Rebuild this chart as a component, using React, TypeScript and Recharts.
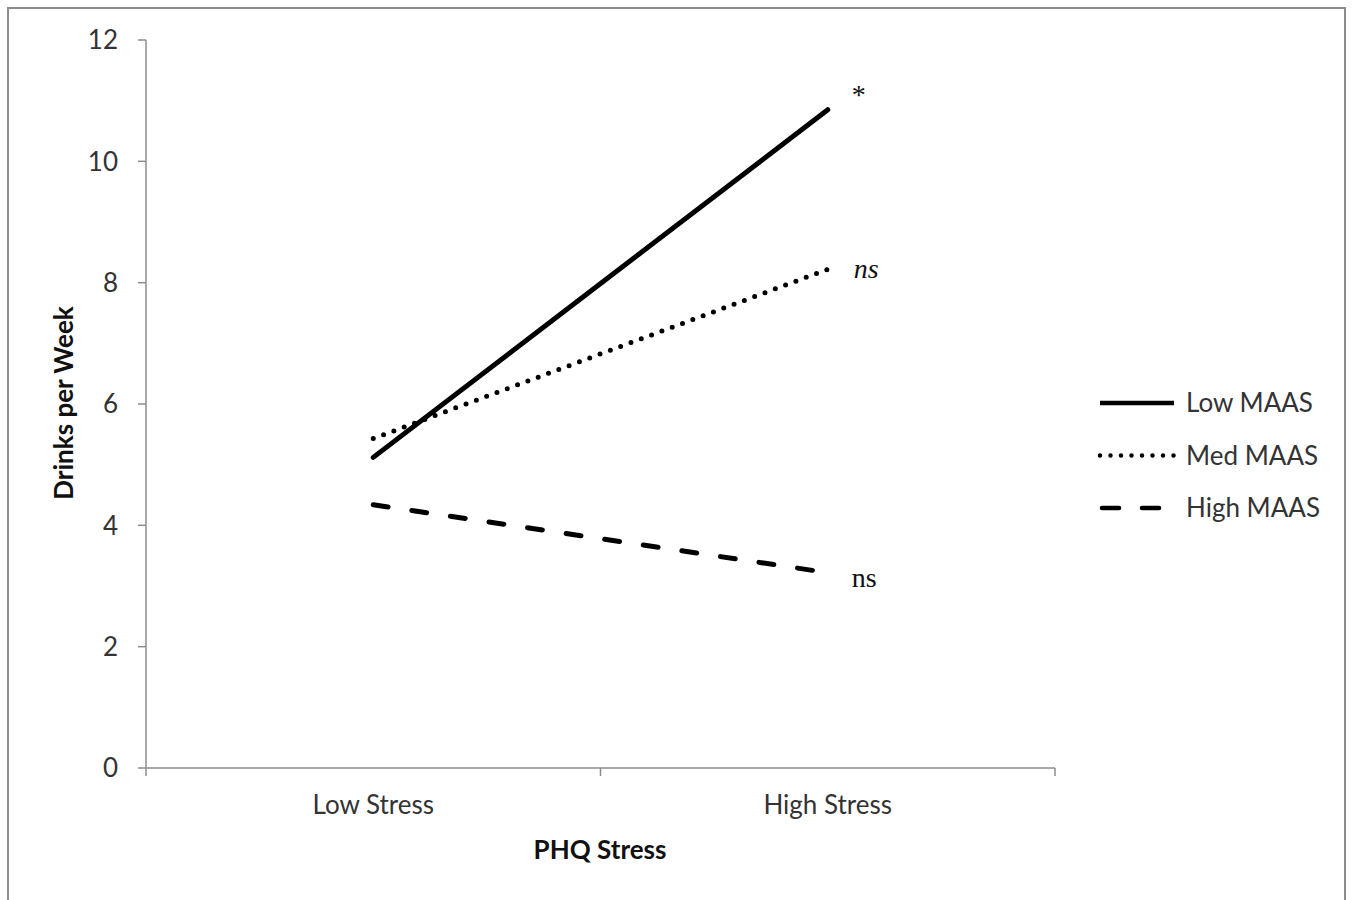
import { Label, Legend, Line, LineChart, XAxis, YAxis } from "recharts";

const INK = "#000000";
const AXIS = "#8c8c8c";
const TEXT = "#333333";
const SANS = "Lato, 'Open Sans', sans-serif";
const SERIF = "'Liberation Serif', 'DejaVu Serif', serif";

const categories = ["Low Stress", "High Stress"];
const lowMaas = [5.12, 10.85];
const medMaas = [5.43, 8.22];
const highMaas = [4.34, 3.22];
const yTicks = [0, 2, 4, 6, 8, 10, 12];

const data = categories.map((stress, i) => ({
  stress,
  low: lowMaas[i],
  med: medMaas[i],
  high: highMaas[i],
}));

const SERIES = [
  { key: "low", name: "Low MAAS", dash: undefined, note: "*", italic: false, dx: 24, dy: -6 },
  { key: "med", name: "Med MAAS", dash: "0 11", note: "ns", italic: true, dx: 26, dy: 9 },
  { key: "high", name: "High MAAS", dash: "15 24", note: "ns", italic: false, dx: 24, dy: 14 },
];

function endNote(note: string, italic: boolean, dx: number, dy: number) {
  return (props: any) => {
    if (props.index !== categories.length - 1) return null;
    return (
      <text
        x={props.x + dx}
        y={props.y + dy}
        fontFamily={SERIF}
        fontSize={28}
        fontStyle={italic ? "italic" : "normal"}
        fill="#111"
      >
        {note}
      </text>
    );
  };
}

// category label in the band centre, tick marks on the band edges
function StressTick(props: any) {
  const { x, y, payload, index } = props;
  const half = payload.offset || 0;
  const last = index === categories.length - 1;
  return (
    <g>
      <line x1={x - half} x2={x - half} y1={y} y2={y + 8} stroke={AXIS} strokeWidth={1.5} />
      {last && <line x1={x + half} x2={x + half} y1={y} y2={y + 8} stroke={AXIS} strokeWidth={1.5} />}
      <text x={x} y={y + 46} textAnchor="middle" fontFamily={SANS} fontSize={26} fill={TEXT}>
        {payload.value}
      </text>
    </g>
  );
}

function LegendBox() {
  return (
    <svg width={240} height={150}>
      {SERIES.map((s, i) => {
        const y = 18 + i * 52.5;
        return (
          <g key={s.key}>
            <line
              x1={s.dash === "15 24" ? 4 : 2}
              x2={s.dash === "15 24" ? 62 : 76}
              y1={y}
              y2={y}
              stroke={INK}
              strokeWidth={s.dash === "0 11" ? 4.5 : 4.5}
              strokeLinecap={s.dash ? "round" : "butt"}
              strokeDasharray={s.dash === "0 11" ? "0 10.5" : s.dash === "15 24" ? "17 23" : undefined}
            />
            <text x={88} y={y + 9} fontFamily={SANS} fontSize={26} fill={TEXT}>
              {s.name}
            </text>
          </g>
        );
      })}
    </svg>
  );
}

export default function App() {
  return (
    <div style={{ position: "absolute", left: 0, top: 0, width: 1352, height: 900, background: "#fff", overflow: "hidden" }}>
      <div
        style={{
          position: "absolute",
          left: 7,
          top: 7,
          width: 1339,
          height: 900,
          border: `2px solid ${AXIS}`,
          boxSizing: "border-box",
        }}
      />
      <div style={{ position: "absolute", left: 0, top: 0 }}>
        <LineChart width={1352} height={900} data={data} margin={{ top: 40, right: 297, left: 40, bottom: 62 }}>
          <XAxis
            dataKey="stress"
            scale="band"
            height={70}
            axisLine={{ stroke: AXIS, strokeWidth: 1.5 }}
            tickLine={false}
            tickSize={0}
            tickMargin={0}
            interval={0}
            tick={<StressTick />}
          >
            <Label
              content={() => (
                <text x={600} y={859} textAnchor="middle" fontFamily={SANS} fontSize={26} fontWeight={700} fill="#111">
                  PHQ Stress
                </text>
              )}
            />
          </XAxis>
          <YAxis
            width={106}
            domain={[0, 12]}
            ticks={yTicks}
            axisLine={{ stroke: AXIS, strokeWidth: 1.5 }}
            tickLine={{ stroke: AXIS, strokeWidth: 1.5 }}
            tickSize={8}
            tickMargin={20}
            tick={{ fontFamily: SANS, fontSize: 26, fill: TEXT }}
          >
            <Label
              content={() => (
                <text
                  x={73}
                  y={403}
                  transform="rotate(-90 73 403)"
                  textAnchor="middle"
                  fontFamily={SANS}
                  fontSize={26}
                  fontWeight={700}
                  fill="#111"
                >
                  Drinks per Week
                </text>
              )}
            />
          </YAxis>
          <Legend
            layout="vertical"
            align="center"
            verticalAlign="middle"
            content={() => <LegendBox />}
            wrapperStyle={{ left: 1098, top: 385, width: 240 }}
          />
          {SERIES.map((s) => (
            <Line
              key={s.key}
              dataKey={s.key}
              name={s.name}
              type="linear"
              stroke={INK}
              strokeWidth={5}
              strokeLinecap="round"
              strokeDasharray={s.dash}
              dot={false}
              activeDot={false}
              isAnimationActive={false}
              label={endNote(s.note, s.italic, s.dx, s.dy)}
            />
          ))}
        </LineChart>
      </div>
    </div>
  );
}
